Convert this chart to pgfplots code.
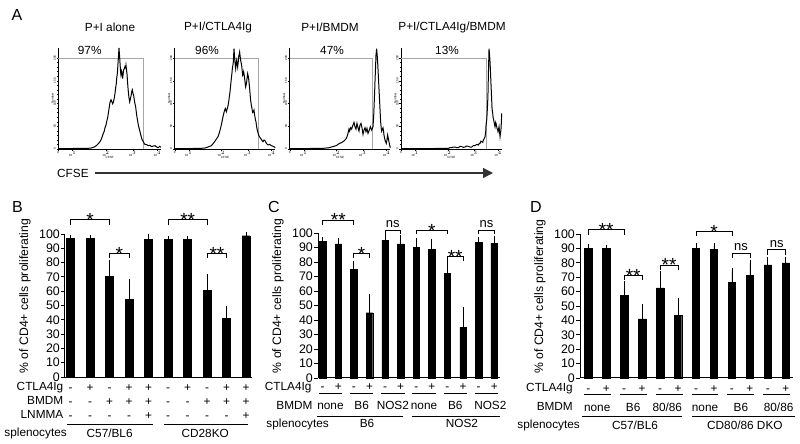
\documentclass[border=0pt]{standalone}
\usepackage{pgfplots}
\pgfplotsset{compat=1.18}
\usepackage{fontspec}
\setmainfont{Liberation Sans}
\usetikzlibrary{arrows.meta}

\newcommand{\lab}{\fontsize{11.8}{13}\selectfont}
\newcommand{\tickf}{\fontsize{12.4}{13}\selectfont}
\newcommand{\ylabf}{\fontsize{12.2}{14}\selectfont}
\newcommand{\starf}{\fontsize{19}{20}\selectfont}
\newcommand{\nsf}{\fontsize{13}{14}\selectfont}
\newcommand{\titf}{\fontsize{11.8}{13}\selectfont}
\newcommand{\panelf}{\fontsize{16}{18}\selectfont}
\newcommand{\tinyf}{\fontsize{3}{3.5}\selectfont}

% sign / text at bar position, shifted below the x axis
\newcommand{\sg}[3]{\node[anchor=base,font=\lab,inner sep=0pt] at ([yshift=#2]axis cs:#1,0) {#3};}
% horizontal line under labels
\newcommand{\hl}[3]{\draw[line width=0.8pt] ([yshift=#3]axis cs:#1,0) -- ([yshift=#3]axis cs:#2,0);}
% bracket: x1, x2, mid, ytop, ybottom, label
\newcommand{\brk}[6]{\draw[line width=0.8pt] (axis cs:#1,#5) -- (axis cs:#1,#4) -- (axis cs:#2,#4) -- (axis cs:#2,#5);
  \node[anchor=base,font=\starf,inner sep=0pt] at ([yshift=-7pt]axis cs:#3,#4) {#6};}
\newcommand{\brkns}[5]{\draw[line width=0.8pt] (axis cs:#1,#5) -- (axis cs:#1,#4) -- (axis cs:#2,#4) -- (axis cs:#2,#5);
  \node[anchor=base,font=\nsf,inner sep=0pt] at ([yshift=2.5pt]axis cs:#3,#4) {ns};}

\pgfplotsset{
  hist/.style={
    scale only axis, anchor=south west, height=101pt,
    axis lines=left, axis line style={-, line width=0.9pt},
    ymin=-322, ymax=-18,
    ytick={-322,-253.5,-185,-116.5,-48}, yticklabels={0,50,100,150,200},
    minor y tick num=4,
    yticklabel style={rotate=90, font=\tinyf, inner sep=0.5pt},
    xticklabel style={font=\tinyf, inner sep=0.5pt},
    minor x tick num=4,
    tick style={black, line width=0.3pt}, major tick length=1.8pt, minor tick length=1pt,
    tick align=outside,
    ylabel={Number}, ylabel style={font=\tinyf, yshift=-4pt},
    xlabel={CFSE}, xlabel style={font=\tinyf, yshift=4pt},
    clip=false,
  },
  bars/.style={
    scale only axis, anchor=south west, ymin=0, ymax=100,
    axis x line=bottom, axis y line=left, axis line style={-, line width=1pt},
    ytick={0,10,...,100}, tick align=outside, major tick length=4pt,
    tick style={black, line width=0.9pt},
    yticklabel style={font=\tickf, inner sep=1pt},
    /pgf/number format/assume math mode=true,
    xtick=\empty,
    ylabel={\% of CD4+ cells proliferating},
    ylabel style={font=\ylabf, at={(ticklabel cs:0.565)}},
    ylabel shift=4pt,
    clip=false,
  },
  barplot/.style={ybar, fill=black, draw=black,
    error bars/.cd, y dir=plus, y explicit,
    error bar style={line width=0.8pt, black},
    error mark options={black, line width=0.8pt, mark size=2.5pt}},
}

\begin{document}
\begin{tikzpicture}[x=1pt,y=1pt]
\path[use as bounding box] (0,0) rectangle (800,444);

% ---------------- Panel A ----------------
\node[font=\panelf] at (17,429) {A};

\begin{axis}[hist, at={(58.3pt,295pt)}, width=102.7pt, xmin=10, xmax=318,
  xtick={10,53,153,233,307}, xticklabels={0,10$^1$,10$^2$,10$^3$,10$^4$}]
\addplot[gray!70, line width=0.6pt] coordinates {(10,-48) (265,-48) (265,-322)};
\addplot[black, line width=1pt] coordinates {
(10,-321) (40,-321) (70,-320) (100,-320) (108,-319) (115,-317) (120,-315) (125,-311) (130,-306) (135,-300) (140,-290) (145,-275) (148,-268) (150,-258) (153,-250) (155,-240) (158,-228) (160,-215) (163,-195) (165,-182) (168,-174) (170,-178) (173,-186) (175,-182) (178,-168) (180,-155) (182,-138) (184,-125) (185,-110) (187,-95) (188,-82) (190,-50) (192,-18) (194,-45) (195,-62) (197,-92) (198,-100) (200,-88) (202,-98) (203,-110) (205,-92) (206,-84) (208,-80) (210,-74) (212,-78) (213,-70) (215,-88) (216,-96) (218,-125) (220,-150) (222,-168) (224,-180) (226,-172) (228,-163) (230,-150) (232,-144) (234,-155) (236,-160) (238,-175) (240,-186) (242,-195) (245,-220) (248,-238) (250,-250) (253,-262) (255,-270) (258,-282) (260,-290) (263,-297) (265,-300) (268,-306) (270,-308) (275,-309) (280,-312) (285,-311) (290,-315) (295,-313) (300,-312) (305,-316) (310,-318) (314,-314) (318,-317)};
\end{axis}
\node[font=\titf] at (110,417) {P+I alone};
\node[font=\titf] at (89.7,394) {97\%};

\begin{axis}[hist, at={(174.7pt,295pt)}, width=100.6pt, xmin=20, xmax=322,
  xtick={20,62,160,239,311}, xticklabels={0,10$^1$,10$^2$,10$^3$,10$^4$}]
\addplot[gray!70, line width=0.6pt] coordinates {(20,-48) (272,-48) (272,-322)};
\addplot[black, line width=1pt] coordinates {
(20,-321) (60,-321) (90,-320) (100,-320) (110,-319) (115,-318) (120,-316) (125,-314) (130,-312) (135,-306) (140,-300) (145,-292) (150,-285) (153,-276) (155,-270) (158,-258) (160,-250) (163,-235) (165,-225) (168,-212) (170,-205) (172,-200) (175,-210) (178,-200) (180,-192) (182,-180) (184,-165) (186,-150) (188,-130) (190,-110) (192,-92) (193,-80) (195,-68) (196,-60) (198,-20) (200,-50) (202,-70) (203,-80) (205,-62) (206,-55) (208,-68) (209,-75) (211,-58) (212,-45) (214,-35) (215,-30) (217,-48) (218,-55) (220,-65) (221,-70) (223,-90) (224,-100) (226,-95) (227,-90) (229,-102) (230,-110) (232,-128) (233,-135) (235,-126) (236,-120) (238,-102) (239,-95) (241,-104) (242,-110) (244,-130) (245,-140) (247,-165) (248,-175) (250,-190) (252,-200) (254,-212) (256,-210) (258,-205) (260,-220) (262,-232) (264,-240) (266,-255) (268,-265) (270,-273) (272,-280) (275,-286) (278,-290) (282,-296) (285,-300) (288,-295) (292,-298) (296,-306) (300,-310) (305,-308) (310,-312) (316,-314) (322,-318)};
\end{axis}
\node[font=\titf] at (218,417) {P+I/CTLA4Ig};
\node[font=\titf] at (207,394) {96\%};

\begin{axis}[hist, at={(289.7pt,295pt)}, width=100.6pt, xmin=20, xmax=322,
  xtick={20,62,160,239,311}, xticklabels={0,10$^1$,10$^2$,10$^3$,10$^4$}]
\addplot[gray!70, line width=0.6pt] coordinates {(20,-48) (268,-48) (268,-322)};
\addplot[black, line width=1pt] coordinates {
(20,-321) (60,-321) (100,-320) (120,-320) (130,-319) (140,-318) (145,-316) (150,-315) (155,-313) (160,-312) (165,-308) (170,-305) (175,-303) (180,-300) (185,-296) (190,-290) (193,-282) (195,-275) (198,-262) (200,-268) (203,-258) (206,-262) (208,-255) (210,-250) (213,-242) (216,-255) (219,-262) (222,-245) (225,-258) (228,-268) (231,-250) (234,-245) (237,-258) (240,-278) (243,-265) (246,-258) (249,-270) (252,-260) (255,-275) (258,-268) (262,-255) (266,-265) (270,-255) (272,-225) (273,-200) (275,-150) (276,-120) (278,-70) (279,-40) (281,-20) (283,-45) (284,-60) (286,-100) (287,-120) (289,-160) (290,-180) (292,-220) (293,-240) (295,-262) (296,-268) (298,-262) (300,-258) (302,-270) (303,-280) (305,-290) (306,-295) (308,-300) (310,-305) (312,-295) (314,-280) (316,-290) (318,-300) (320,-310) (322,-318)};
\end{axis}
\node[font=\titf] at (330,417) {P+I/BMDM};
\node[font=\titf] at (332,394) {47\%};

\begin{axis}[hist, at={(401pt,295pt)}, width=100.7pt, xmin=18, xmax=320,
  xtick={18,60,158,237,309}, xticklabels={0,10$^1$,10$^2$,10$^3$,10$^4$}]
\addplot[gray!70, line width=0.6pt] coordinates {(18,-48) (275,-48) (275,-322)};
\addplot[black, line width=1pt] coordinates {
(18,-321) (60,-321) (100,-321) (140,-320) (160,-320) (165,-318) (170,-318) (175,-316) (180,-316) (185,-318) (190,-318) (195,-314) (200,-315) (205,-317) (210,-316) (215,-313) (220,-314) (225,-316) (230,-316) (235,-312) (240,-312) (245,-308) (250,-310) (253,-305) (255,-305) (258,-298) (260,-300) (263,-302) (265,-295) (268,-290) (270,-285) (272,-270) (273,-250) (275,-235) (276,-220) (278,-180) (279,-150) (280,-100) (282,-20) (284,-45) (285,-60) (287,-105) (288,-130) (290,-175) (291,-200) (293,-215) (294,-225) (296,-235) (297,-240) (299,-250) (300,-255) (302,-242) (303,-245) (305,-255) (306,-260) (308,-265) (309,-270) (311,-260) (312,-255) (314,-275) (315,-285) (317,-270) (318,-260) (319,-240) (320,-215)};
\end{axis}
\node[font=\titf] at (452,417) {P+I/CTLA4Ig/BMDM};
\node[font=\titf] at (447,394) {13\%};

\node[font=\titf, anchor=west, inner sep=0pt] at (57,271) {CFSE};
\draw[line width=1.2pt, black!80, -{Triangle[length=10pt,width=10pt]}] (95,271) -- (493,271);

% ---------------- Panel B ----------------
\node[font=\panelf] at (17.5,237) {B};
\begin{axis}[bars, at={(65pt,67pt)}, width=187pt, height=143pt, xmin=0.71, xmax=10.3]
\addplot[bar width=8pt, barplot] coordinates {
(1,97) +- (0,0.5)
(2,97) +- (0,0.5)
(3,70.5) +- (0,9.5)
(4,54.5) +- (0,12)
(5,96.5) +- (0,2)
(6,96.5) +- (0,0.5)
(7,96.5) +- (0,0.5)
(8,60.5) +- (0,9.5)
(9,41) +- (0,7)
(10,98.8) +- (0,0.5)};
\brk{1}{3}{2}{110}{106.5}{*}
\brk{3}{4}{3.5}{86.5}{83.5}{*}
\brk{6}{8}{7}{110}{106.5}{**}
\brk{8}{9}{8.5}{86.5}{83.5}{**}
\sg{1}{-14pt}{-}\sg{2}{-14pt}{+}\sg{3}{-14pt}{-}\sg{4}{-14pt}{+}\sg{5}{-14pt}{+}
\sg{6}{-14pt}{-}\sg{7}{-14pt}{+}\sg{8}{-14pt}{-}\sg{9}{-14pt}{+}\sg{10}{-14pt}{+}
\sg{1}{-28pt}{-}\sg{2}{-28pt}{-}\sg{3}{-28pt}{+}\sg{4}{-28pt}{+}\sg{5}{-28pt}{+}
\sg{6}{-28pt}{-}\sg{7}{-28pt}{-}\sg{8}{-28pt}{+}\sg{9}{-28pt}{+}\sg{10}{-28pt}{+}
\sg{1}{-42pt}{-}\sg{2}{-42pt}{-}\sg{3}{-42pt}{-}\sg{4}{-42pt}{-}\sg{5}{-42pt}{+}
\sg{6}{-42pt}{-}\sg{7}{-42pt}{-}\sg{8}{-42pt}{-}\sg{9}{-42pt}{-}\sg{10}{-42pt}{+}
\hl{0.8}{5.2}{-47pt}
\hl{5.8}{10.1}{-47pt}
\sg{3.0}{-60pt}{C57/BL6}
\sg{7.9}{-60pt}{CD28KO}
\end{axis}
\node[anchor=base east, font=\lab, inner sep=0pt] at (63.5,53) {CTLA4Ig};
\node[anchor=base east, font=\lab, inner sep=0pt] at (63.5,39) {BMDM};
\node[anchor=base east, font=\lab, inner sep=0pt] at (63.5,25) {LNMMA};
\node[anchor=base east, font=\lab, inner sep=0pt] at (67,7) {splenocytes};

% ---------------- Panel C ----------------
\node[font=\panelf] at (274,237) {C};
\begin{axis}[bars, at={(318pt,66pt)}, width=182pt, height=145pt, xmin=0.70, xmax=12.37]
\addplot[bar width=6.5pt, barplot] coordinates {
(1,94) +- (0,1.5)
(2,92.5) +- (0,2)
(3,75) +- (0,4)
(4,45) +- (0,11.5)
(5,95) +- (0,3)
(6,92.5) +- (0,4.5)
(7,90) +- (0,5)
(8,88.5) +- (0,5.5)
(9,72) +- (0,7)
(10,35) +- (0,12)
(11,93.5) +- (0,2)
(12,93) +- (0,3.5)};
\brk{1}{3}{2}{109}{105.5}{**}
\brk{3}{4}{3.5}{86}{83}{*}
\brkns{5}{6}{5.5}{102}{99}
\brk{7}{9}{8}{102}{99}{*}
\brk{9}{10}{9.5}{84}{81}{**}
\brkns{11}{12}{11.5}{102}{99}
\sg{1}{-13pt}{-}\sg{2}{-13pt}{+}\sg{3}{-13pt}{-}\sg{4}{-13pt}{+}\sg{5}{-13pt}{-}\sg{6}{-13pt}{+}
\sg{7}{-13pt}{-}\sg{8}{-13pt}{+}\sg{9}{-13pt}{-}\sg{10}{-13pt}{+}\sg{11}{-13pt}{-}\sg{12}{-13pt}{+}
\hl{0.75}{2.25}{-15pt}\hl{2.75}{4.25}{-15pt}\hl{4.75}{6.25}{-15pt}
\hl{6.75}{8.25}{-15pt}\hl{8.75}{10.25}{-15pt}\hl{10.75}{12.25}{-15pt}
\sg{1.5}{-32pt}{none}\sg{3.5}{-32pt}{B6}\sg{5.5}{-32pt}{NOS2}
\sg{7.5}{-32pt}{none}\sg{9.5}{-32pt}{B6}\sg{11.75}{-32pt}{NOS2}
\hl{0.62}{6.17}{-38pt}
\hl{6.7}{12.37}{-38pt}
\sg{3.84}{-50pt}{B6}
\sg{9.93}{-50pt}{NOS2}
\end{axis}
\node[anchor=base east, font=\lab, inner sep=0pt] at (311.7,53) {CTLA4Ig};
\node[anchor=base east, font=\lab, inner sep=0pt] at (312.7,34) {BMDM};
\node[anchor=base east, font=\lab, inner sep=0pt] at (329,16) {splenocytes};

% ---------------- Panel D ----------------
\node[font=\panelf] at (536,237) {D};
\begin{axis}[bars, at={(580pt,66pt)}, width=213pt, height=144pt, xmin=0.54, xmax=12.4]
\addplot[bar width=7.3pt, barplot] coordinates {
(1,90) +- (0,1.5)
(2,90) +- (0,0.5)
(3,57.5) +- (0,8)
(4,41) +- (0,8.5)
(5,62.5) +- (0,10)
(6,43.5) +- (0,10.5)
(7,90) +- (0,2)
(8,89.5) +- (0,2.5)
(9,66.5) +- (0,8)
(10,71.5) +- (0,8.5)
(11,78.5) +- (0,3.5)
(12,80) +- (0,2.5)};
\brk{1}{3}{2}{103}{99.5}{**}
\brk{3}{4}{3.5}{71.5}{68}{**}
\brk{5}{6}{5.5}{78.5}{75}{**}
\brk{7}{9}{8}{102}{98.6}{*}
\brkns{9}{10}{9.5}{86.6}{83}
\brkns{11}{12}{11.5}{89}{85.4}
\sg{1}{-14pt}{-}\sg{2}{-14pt}{+}\sg{3}{-14pt}{-}\sg{4}{-14pt}{+}\sg{5}{-14pt}{-}\sg{6}{-14pt}{+}
\sg{7}{-14pt}{-}\sg{8}{-14pt}{+}\sg{9}{-14pt}{-}\sg{10}{-14pt}{+}\sg{11}{-14pt}{-}\sg{12}{-14pt}{+}
\hl{0.75}{2.25}{-16pt}\hl{2.75}{4.25}{-16pt}\hl{4.75}{6.25}{-16pt}
\hl{6.75}{8.25}{-16pt}\hl{8.75}{10.25}{-16pt}\hl{10.75}{12.25}{-16pt}
\sg{1.5}{-33pt}{none}\sg{3.5}{-33pt}{B6}\sg{5.4}{-33pt}{80/86}
\sg{7.5}{-33pt}{none}\sg{9.5}{-33pt}{B6}\sg{11.6}{-33pt}{80/86}
\hl{0.65}{6.22}{-38pt}
\hl{6.77}{12.5}{-38pt}
\sg{3.6}{-51pt}{C57/BL6}
\sg{9.72}{-51pt}{CD80/86 DKO}
\end{axis}
\node[anchor=base east, font=\lab, inner sep=0pt] at (573,52) {CTLA4Ig};
\node[anchor=base east, font=\lab, inner sep=0pt] at (573,33) {BMDM};
\node[anchor=base east, font=\lab, inner sep=0pt] at (580,15) {splenocytes};

\end{tikzpicture}
\end{document}
